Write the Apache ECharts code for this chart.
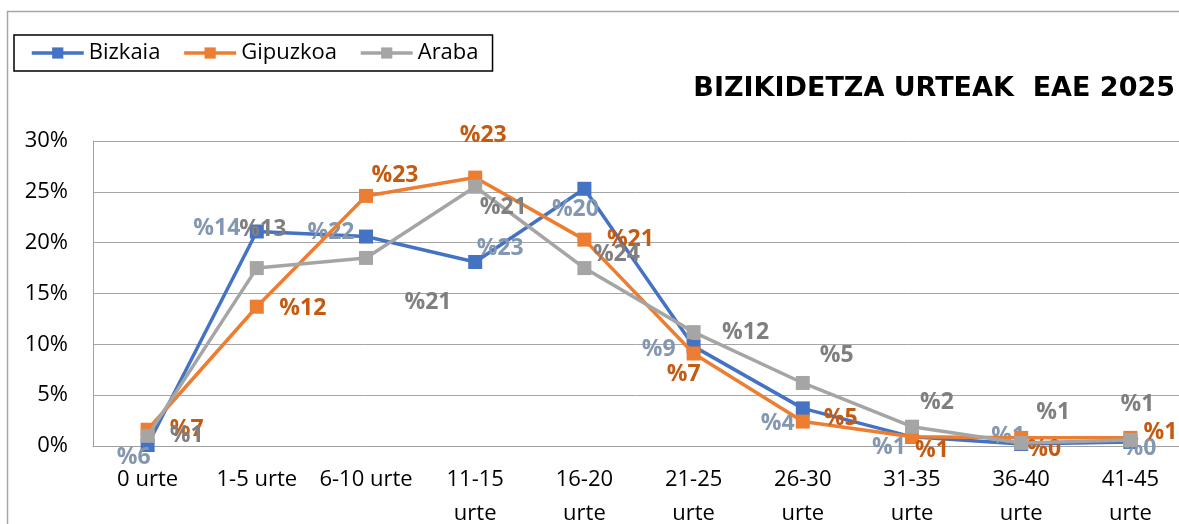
<!DOCTYPE html>
<html>
<head>
<meta charset="utf-8">
<script src="https://cdn.jsdelivr.net/npm/echarts@6/dist/echarts.min.js"></script>
<style>
html,body{margin:0;padding:0;background:#fff;}
#chart{width:1179px;height:524px;}
</style>
</head>
<body>
<div id="chart"></div>
<script>
// ---- data ----
const categories = ['0 urte','1-5 urte','6-10 urte','11-15 urte','16-20 urte','21-25 urte','26-30 urte','31-35 urte','36-40 urte','41-45 urte'];
const yTicks = [0, 5, 10, 15, 20, 25, 30];
const bizkaia  = [0.1, 21.1, 20.6, 18.1, 25.3, 9.8, 3.7, 0.9, 0.2, 0.4];
const gipuzkoa = [1.6, 13.7, 24.6, 26.4, 20.3, 9.1, 2.4, 0.9, 0.8, 0.8];
const araba    = [1.0, 17.5, 18.5, 25.5, 17.5, 11.2, 6.2, 1.9, 0.3, 0.6];
const bizkaiaLabels  = ['%6','%14','%22','%23','%20','%9','%4','%1','%1','%0'];
const gipuzkoaLabels = ['%7','%12','%23','%23','%21','%7','%5','%1','%0','%1'];
const arabaLabels    = ['%1','%13','%21','%21','%24','%12','%5','%2','%1','%1'];
const seriesNames = ['Bizkaia','Gipuzkoa','Araba'];
const titleText = 'BIZIKIDETZA URTEAK  EAE 2025';

// ---- layout (label offsets in px, relative to each marker) ----
const bizkaiaOffsets  = [[-14,12],[-40,-3],[-35,-4],[25,-14],[-9,21],[-35,3],[-25,15],[-23,11],[-13,-8],[9,7]];
const gipuzkoaOffsets = [[39,0],[46,2],[29,-20],[8,-42],[46,0],[-10,21],[38,-3],[20,14],[23,12],[30,-5]];
const arabaOffsets    = [[39,0],[6,-39],[62,45],[28,21],[32,-14],[52,0],[34,-28],[25,-24],[32,-30],[7,-35]];

const FONT = 'Open Sans';

function makeSeries(name, values, labels, offsets, color, labelColor, z) {
  return {
    name: name,
    type: 'line',
    z: z,
    symbol: 'rect',
    symbolSize: 14,
    lineStyle: { width: 3.5, color: color },
    itemStyle: { color: color },
    emphasis: { disabled: true },
    animation: false,
    data: values.map((v, i) => ({
      value: v,
      label: {
        show: true,
        position: 'inside',
        offset: offsets[i],
        formatter: labels[i],
        color: labelColor,
        fontFamily: FONT,
        fontWeight: 'bold',
        fontSize: 23,
        align: 'center',
        verticalAlign: 'middle'
      }
    }))
  };
}

const chart = echarts.init(document.getElementById('chart'));
chart.setOption({
  backgroundColor: '#fff',
  animation: false,
  graphic: [{
    type: 'rect',
    shape: { x: 7.5, y: 11.5, width: 1300, height: 700 },
    style: { fill: 'none', stroke: '#a6a6a6', lineWidth: 1.5 },
    z: -10, silent: true
  }],
  title: {
    text: titleText,
    right: 4,
    top: 75,
    padding: 0,
    textStyle: { fontFamily: 'DejaVu Sans', fontWeight: 'bold', fontSize: 27, color: '#000' }
  },
  legend: {
    left: 14,
    top: 35,
    padding: [7, 14, 7, 16],
    borderColor: '#000',
    borderWidth: 1.5,
    itemWidth: 52,
    itemHeight: 14,
    itemGap: 22,
    itemStyle: { borderWidth: 0 },
    lineStyle: { width: 3.5 },
    textStyle: { fontFamily: FONT, fontSize: 22, color: '#000' },
    data: seriesNames
  },
  grid: { left: 93, right: -6, top: 141, bottom: 78, containLabel: false, outerBoundsMode: 'none' },
  xAxis: {
    type: 'category',
    data: categories,
    boundaryGap: true,
    axisLine: { show: true, lineStyle: { color: '#a0a0a0', width: 1 } },
    axisTick: { show: false },
    axisLabel: {
      interval: 0,
      margin: 17,
      fontFamily: FONT,
      fontSize: 22,
      lineHeight: 34,
      color: '#000',
      hideOverlap: false,
      formatter: v => (v.length > 9 ? v.replace(' ', '\n') : v)
    }
  },
  yAxis: {
    type: 'value',
    min: yTicks[0],
    max: yTicks[yTicks.length - 1],
    interval: yTicks[1] - yTicks[0],
    axisLine: { show: true, lineStyle: { color: '#a0a0a0', width: 1 } },
    axisTick: { show: false },
    splitLine: { lineStyle: { color: '#a6a6a6', width: 1 } },
    axisLabel: {
      margin: 25,
      fontFamily: FONT,
      fontSize: 22,
      color: '#000',
      formatter: '{value}%'
    }
  },
  series: [
    makeSeries(seriesNames[0], bizkaia, bizkaiaLabels, bizkaiaOffsets, '#4472C4', '#8497B0', 2),
    makeSeries(seriesNames[1], gipuzkoa, gipuzkoaLabels, gipuzkoaOffsets, '#ED7D31', '#C55A11', 3),
    makeSeries(seriesNames[2], araba, arabaLabels, arabaOffsets, '#A5A5A5', '#7F7F7F', 4)
  ]
});
</script>
</body>
</html>
